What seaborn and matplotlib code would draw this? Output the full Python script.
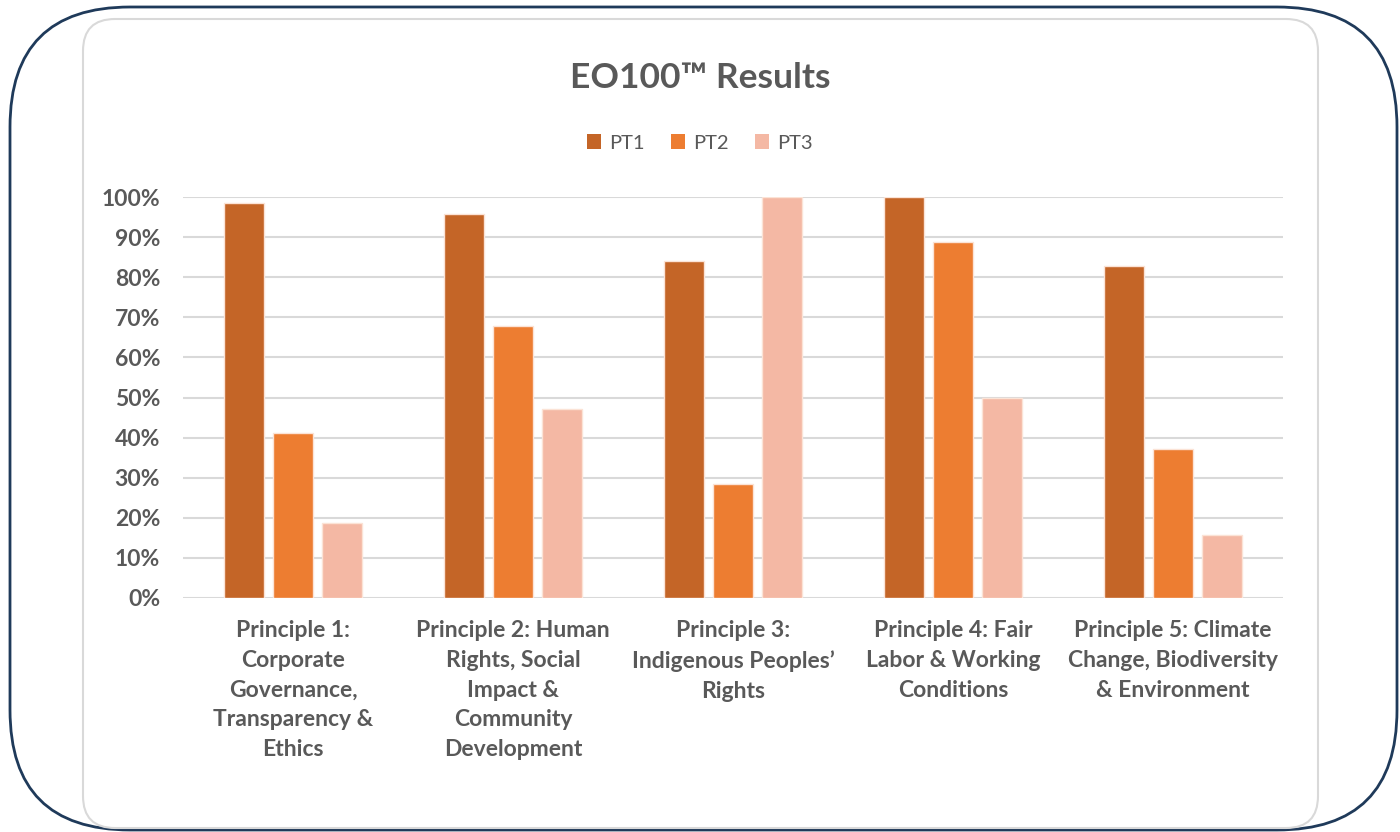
import pandas as pd
import numpy as np
import seaborn as sns
import matplotlib.pyplot as plt
from matplotlib.patches import FancyBboxPatch, Patch

sns.set_theme(style='white')
plt.rcParams['font.family'] = ['Lato', 'DejaVu Sans']

principles = ['Principle 1:\nCorporate\nGovernance,\nTransparency &\nEthics',
              'Principle 2: Human\nRights, Social\nImpact &\nCommunity\nDevelopment',
              'Principle 3:\nIndigenous Peoples\u2019\nRights',
              'Principle 4: Fair\nLabor & Working\nConditions',
              'Principle 5: Climate\nChange, Biodiversity\n& Environment']
series = ['PT1', 'PT2', 'PT3']
pt1 = [0.984, 0.958, 0.840, 1.000, 0.828]
pt2 = [0.411, 0.678, 0.284, 0.889, 0.372]
pt3 = [0.187, 0.471, 1.000, 0.499, 0.157]
colors = ['#C46527', '#ED7D31', '#F4B8A4']
text_gray = '#595959'

df = pd.DataFrame({
    'principle': principles * 3,
    'series': np.repeat(series, len(principles)),
    'value': pt1 + pt2 + pt3,
})

fig = plt.figure(figsize=(14, 8.32), dpi=100)

# frame: navy outer rounded box + light inner card
bg = fig.add_axes([0, 0, 1, 1], zorder=0)
bg.set_xlim(0, 1400)
bg.set_ylim(832, 0)
bg.axis('off')
bg.add_patch(FancyBboxPatch((10, 7), 1387, 823,
                            boxstyle='round,pad=0,rounding_size=120',
                            fc='white', ec='#1F3A5A', lw=2))
bg.add_patch(FancyBboxPatch((83, 19), 1235, 809,
                            boxstyle='round,pad=0,rounding_size=32',
                            fc='white', ec='#D9D9D9', lw=1.5))

ax = fig.add_axes([183 / 1400, 1 - 598 / 832, 1100 / 1400, 401 / 832], zorder=1)
ax.patch.set_alpha(0)
sns.barplot(data=df, x='principle', y='value', hue='series', palette=colors,
            saturation=1, width=0.67, gap=0.2, edgecolor='#FBE3D6', linewidth=1,
            legend=False, ax=ax)

ax.set_ylim(0, 1)
ax.set_xlim(-0.5, 4.5)
ax.set_yticks(np.arange(0, 1.01, 0.1))
ax.set_yticklabels([f'{int(round(t * 100))}%' for t in np.arange(0, 1.01, 0.1)])
ax.yaxis.grid(True, color='#D9D9D9', lw=1.5)
ax.set_axisbelow(True)
for s in ax.spines.values():
    s.set_visible(False)
ax.tick_params(axis='both', length=0, colors=text_gray)
ax.tick_params(axis='y', pad=16.5)
ax.tick_params(axis='x', pad=16)
for lab in ax.get_yticklabels():
    lab.set_fontsize(16.5)
    lab.set_fontweight('bold')
for lab in ax.get_xticklabels():
    lab.set_fontsize(16.5)
    lab.set_fontweight('bold')
    lab.set_linespacing(1.51)
ax.set_xlabel('')
ax.set_ylabel('')

fig.text(0.5, 1 - 78 / 832, 'EO100\u2122 Results', ha='center', va='center',
         fontsize=25.5, fontweight='bold', color=text_gray)

handles = [Patch(fc=c, ec='none') for c in colors]
leg = fig.legend(handles, series, loc='center', bbox_to_anchor=(0.5, 1 - 143 / 832),
                 ncol=3, frameon=False, fontsize=14.5, handlelength=0.7,
                 handleheight=0.7, handletextpad=0.4, columnspacing=1.3)
for t in leg.get_texts():
    t.set_color(text_gray)

fig.savefig('out.png', dpi=100)
